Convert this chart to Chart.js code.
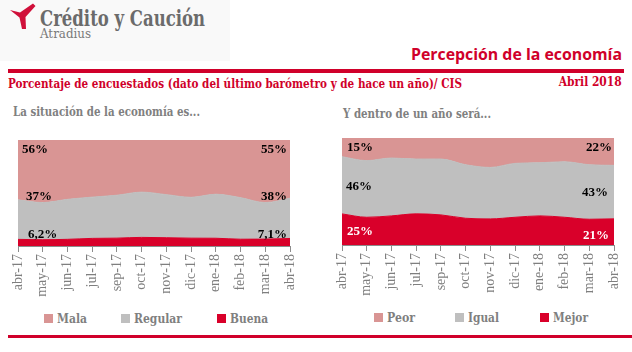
<!DOCTYPE html>
<html>
<head>
<meta charset="utf-8">
<script src="https://cdn.jsdelivr.net/npm/chart.js@4.4.0/dist/chart.umd.min.js"></script>
<style>
  html, body { margin: 0; padding: 0; background: #fff; }
  body { width: 632px; height: 352px; position: relative; overflow: hidden; font-family: "DejaVu Serif", serif; }
  .abs { position: absolute; white-space: nowrap; line-height: 1; }
  .fit { display: inline-block; }
  #logoBox { left: 0; top: 0; width: 230px; height: 61px; background: #f9f9f9; }
  #logoName { left: 40px; top: 7px; font-size: 22px; font-weight: bold; color: #6b6b6b; }
  #logoSub { left: 40px; top: 27px; font-size: 13px; color: #7a7a7a; }
  #title { right: 10px; top: 46px; font-family: "Open Sans", sans-serif; font-size: 16px; font-weight: bold; color: #d0002a; }
  .rule { position: absolute; background: #d0002a; }
  #sub { left: 8px; top: 78px; font-size: 12.5px; font-weight: bold; color: #d0002a; }
  #date { right: 10px; top: 76px; font-size: 12.5px; font-weight: bold; color: #d0002a; }
  .panel { font-size: 12.5px; font-weight: bold; color: #808080; }
  canvas { position: absolute; }
  .sw { position: absolute; width: 9px; height: 9px; }
  .lg { position: absolute; font-size: 12.5px; font-weight: bold; color: #7f7f7f; line-height: 1; display: inline-block; transform-origin: left center; }
</style>
</head>
<body>
  <div class="abs" id="logoBox"></div>
  <svg class="abs" style="left:0;top:0" width="40" height="34">
    <path d="M10,10 L20,12.5 L33,3.5 L35.5,6 L25.5,17 L26,29 L22,29 L19.5,17.5 Z" fill="#d0103a"/>
  </svg>
  <div class="abs fit" id="logoName">Crédito y Caución</div>
  <div class="abs fit" id="logoSub">Atradius</div>
  <div class="abs fit" id="title">Percepción de la economía</div>
  <div class="rule" style="left:8px;top:69px;width:616px;height:4px"></div>
  <div class="abs fit" id="sub">Porcentaje de encuestados (dato del último barómetro y de hace un año)/ CIS</div>
  <div class="abs fit" id="date">Abril 2018</div>

  <div class="abs fit panel" id="capL" style="left:13px;top:106px">La situación de la economía es...</div>
  <div class="abs fit panel" id="capR" style="left:343px;top:108px">Y dentro de un año será...</div>

  <canvas id="chartL" width="300" height="180" style="left:0;top:130px"></canvas>
  <canvas id="chartR" width="300" height="181" style="left:322px;top:128px"></canvas>

  <div id="legends"></div>
  <div class="rule" style="left:8px;top:335px;width:624px;height:3px"></div>

<script>
(() => {
  "use strict";

  const $ = (id) => document.getElementById(id);

  // ── data ──────────────────────────────────────────────────────────────────
  const MONTHS = ["abr-17", "may-17", "jun-17", "jul-17", "sep-17", "oct-17",
                  "nov-17", "dic-17", "ene-18", "feb-18", "mar-18", "abr-18"];

  // La situación de la economía es...
  const BUENA   = [6.2, 5.9, 6.3, 7.2, 7.4, 8.1, 7.8, 7.4, 7.3, 6.4, 6.5, 7.1];
  const REGULAR = [37, 35, 37.7, 39, 40.4, 42.5, 40.6, 38.5, 41.4, 39.2, 34.4, 38];
  const MALA    = [56, 59, 56, 54, 52, 49, 51.5, 54, 51, 54.4, 59, 55];

  // Y dentro de un año será...
  const MEJOR = [25, 22.3, 23.4, 25, 24.2, 21.5, 21, 22.3, 23.4, 22.3, 20.7, 21];
  const IGUAL = [46, 45.5, 46.5, 44, 44.9, 43, 41.4, 43.3, 42.7, 44.6, 43.8, 43];
  const PEOR  = [15, 18.2, 16.1, 16.9, 16.9, 21.5, 23.7, 20.4, 19.9, 19.1, 21.5, 22];

  const LEGEND_L = ["Mala", "Regular", "Buena"];
  const LEGEND_R = ["Peor", "Igual", "Mejor"];

  const C_TOP = "#d99594", C_MID = "#bfbfbf", C_BOT = "#d9002a";

  const pctText = (v) => String(v).replace(".", ",") + "%";

  // share of each answer in the month total (100% stacked area)
  const share = (series, all) => series.map((v, i) => {
    const tot = all.reduce((s, a) => s + a[i], 0);
    return v / tot * 100;
  });

  // ── end labels drawn on the bands ─────────────────────────────────────────
  const endLabels = {
    id: "endLabels",
    afterDatasetsDraw(chart, args, opts) {
      const { ctx, chartArea: a } = chart;
      ctx.save();
      ctx.font = "bold 13px 'Liberation Serif'";
      ctx.textBaseline = "middle";
      (opts.items || []).forEach((it) => {
        const pts = chart.getDatasetMeta(it.ds).data;
        const i = it.end ? pts.length - 1 : 0;
        ctx.fillStyle = it.color || "#000";
        ctx.textAlign = it.end ? "right" : "left";
        const x = it.end ? a.right - it.dx : a.left + it.dx;
        ctx.fillText(pctText(it.src[i]), x, pts[i].y + it.dy);
      });
      ctx.restore();
    },
  };

  function makeChart(id, series, colors, items, pad) {
    new Chart($(id), {
      type: "line",
      data: {
        labels: MONTHS,
        datasets: series.map((s, k) => ({
          data: share(s, series),
          backgroundColor: colors[k], borderColor: colors[k], borderWidth: 1,
          fill: k === 0 ? "origin" : "-1",
          pointRadius: 0, tension: 0.4, cubicInterpolationMode: "monotone",
        })),
      },
      options: {
        responsive: false, animation: false, devicePixelRatio: 1,
        layout: { padding: pad },
        events: [],
        plugins: { legend: { display: false }, tooltip: { enabled: false }, endLabels: { items } },
        scales: {
          x: {
            offset: false,
            grid: { display: true, drawOnChartArea: false, tickLength: 6, color: "#8c8c8c" },
            border: { color: "#8c8c8c" },
            ticks: { autoSkip: false, maxRotation: 90, minRotation: 90, padding: 2,
                     color: "#7f7f7f", font: { family: "Liberation Serif", size: 14 } },
            afterFit: (s) => { s.height = 64; s.paddingLeft = 0; s.paddingRight = 0; },
          },
          y: { display: false, stacked: true, min: 0, max: 100 },
        },
      },
      plugins: [endLabels],
    });
  }

  makeChart("chartL", [BUENA, REGULAR, MALA], [C_BOT, C_MID, C_TOP], [
    { ds: 2, src: MALA, dx: 4, dy: 10 },
    { ds: 1, src: REGULAR, dx: 8, dy: -3 },
    { ds: 0, src: BUENA, dx: 10, dy: -5 },
    { ds: 2, src: MALA, end: true, dx: 3, dy: 10 },
    { ds: 1, src: REGULAR, end: true, dx: 3, dy: -2 },
    { ds: 0, src: BUENA, end: true, dx: 3, dy: -4 },
  ], { left: 18, right: 10, top: 10, bottom: 0 });

  makeChart("chartR", [MEJOR, IGUAL, PEOR], [C_BOT, C_MID, C_TOP], [
    { ds: 2, src: PEOR, dx: 5, dy: 9.5 },
    { ds: 1, src: IGUAL, dx: 4, dy: 30 },
    { ds: 0, src: MEJOR, dx: 5, dy: 17.5, color: "#fff" },
    { ds: 2, src: PEOR, end: true, dx: 2, dy: 9.5 },
    { ds: 1, src: IGUAL, end: true, dx: 6, dy: 27 },
    { ds: 0, src: MEJOR, end: true, dx: 5, dy: 16.5, color: "#fff" },
  ], { left: 20, right: 8, top: 10, bottom: 0 });

  // ── legends ───────────────────────────────────────────────────────────────
  const legendRow = (names, xs, widths, top) => names.map((n, k) => {
    const c = [C_TOP, C_MID, C_BOT][k];
    return `<div class="sw" style="left:${xs[k]}px;top:${top}px;background:${c}"></div>
            <div class="lg" data-w="${widths[k]}" style="left:${xs[k] + 13}px;top:${top - 1}px">${n}</div>`;
  }).join("");
  $("legends").innerHTML =
    legendRow(LEGEND_L, [44, 121, 217], [30, 48, 38], 314) +
    legendRow(LEGEND_R, [374, 455, 540], [28, 31, 35], 313);

  // ── squeeze texts to the widths of the original ───────────────────────────
  const squeeze = (el, w, origin) => {
    const r = el.getBoundingClientRect().width;
    if (origin) el.style.transformOrigin = origin;
    el.style.transform = `scaleX(${w / r})`;
  };
  const fit = (id, w, origin) => squeeze($(id), w, origin || "left center");
  fit("logoName", 165);
  fit("logoSub", 51);
  fit("title", 211, "right center");
  fit("sub", 454);
  fit("date", 63, "right center");
  fit("capL", 187);
  fit("capR", 148);
  document.querySelectorAll(".lg").forEach((el) => squeeze(el, +el.dataset.w));
})();
</script>
</body>
</html>
